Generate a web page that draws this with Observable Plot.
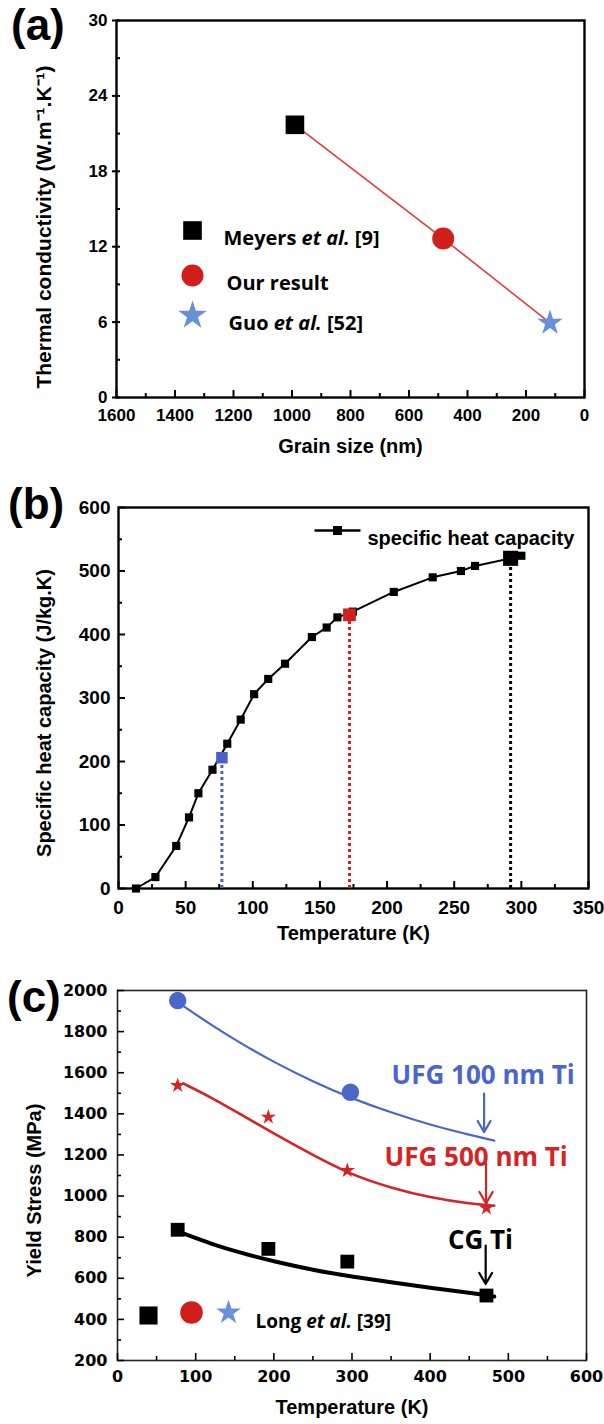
<!DOCTYPE html>
<html><head><meta charset="utf-8">
<script src="https://cdn.jsdelivr.net/npm/d3@7"></script>
<script src="https://cdn.jsdelivr.net/npm/@observablehq/plot@0.6"></script>
<style>
body{margin:0;background:#fff;}
#wrap{position:relative;width:604px;height:1424px;overflow:hidden;background:#fff;}
#wrap svg{position:absolute;left:0;overflow:visible;}
.plabel{position:absolute;font-family:"Liberation Sans",Arial,sans-serif;font-weight:bold;font-size:44px;line-height:1;color:#000;}
</style></head><body><div id="wrap"></div>
<script>
// ---------- Panel (a) data ----------
const grainSize = [990, 483, 118];
const conductivity = [21.7, 12.65, 5.93];
const sourcesA = ["Meyers et al. [9]", "Our result", "Guo et al. [52]"];
const aXTicks = [1600, 1400, 1200, 1000, 800, 600, 400, 200, 0];
const aYTicks = [0, 6, 12, 18, 24, 30];

// ---------- Panel (b) data ----------
const temperatureB = [13, 27.5, 43, 52.5, 59.5, 70, 81, 91, 101, 111.5, 124, 144, 155, 163, 174.5, 205, 234, 255, 265.5, 292, 300];
const heatCapacity = [0, 18, 67, 112, 150, 187, 228, 266, 306, 330, 354, 396, 411, 427, 436, 467, 490, 500, 508, 520, 524];
const markedT = [77, 172, 292];
const markedCp = [206, 431, 520];
const bXTicks = [0, 50, 100, 150, 200, 250, 300, 350];
const bYTicks = [0, 100, 200, 300, 400, 500, 600];

// ---------- Panel (c) data ----------
const tempC = [77, 193, 294, 472];
const cgStress = [836, 743, 681, 516];
const ufg500Stress = [1538, 1384, 1124, 942];
const ufg100T = [77, 298];
const ufg100Stress = [1951, 1505];
const fitT = [84, 120, 160, 200, 250, 300, 350, 400, 450, 482];
const fitUfg100 = [1925, 1832, 1738, 1652, 1556, 1474, 1406, 1346, 1298, 1270];
const fitUfg500 = [1548, 1480, 1392, 1304, 1199, 1102, 1039, 992, 963, 953];
const fitCg = [818, 767, 721, 682, 640, 608, 580, 554, 530, 511];
const labelText = ["UFG 100 nm Ti", "UFG 500 nm Ti", "CG Ti"];
const labelT = [585, 576, 506];
const labelY = [1586, 1189, 784];
const arrowT = [469, 471.5, 471];
const arrowFrom = [1499, 1158, 759];
const arrowTo = [1311, 964, 572];
const cXTicks = [0, 100, 200, 300, 400, 500, 600];
const cYTicks = [200, 400, 600, 800, 1000, 1200, 1400, 1600, 1800, 2000];

// ---------- helpers ----------
const FF = '"Liberation Sans", Arial, sans-serif';
const OS = '"Open Sans", sans-serif';
const wrap = document.getElementById("wrap");
function place(svg, top) { svg.style.top = top + "px"; wrap.appendChild(svg); italicize(svg); }
function italicize(svg) {
  d3.select(svg).selectAll("text").each(function () {
    const t = this.textContent;
    const i = t.indexOf("et al.");
    if (i < 0) return;
    const el = d3.select(this);
    el.text(null);
    el.append("tspan").text(t.slice(0, i));
    el.append("tspan").attr("font-style", "italic").text("et al.");
    el.append("tspan").text(t.slice(i + 6));
  });
}
function label(txt, left, top) {
  const d = document.createElement("div");
  d.className = "plabel"; d.textContent = txt;
  d.style.left = left + "px"; d.style.top = top + "px";
  wrap.appendChild(d);
}
function ticksX(values, innerH, len, sw) { return Plot.tickX(values, {x: d => d, insetTop: innerH - len, stroke: "#000", strokeWidth: sw}); }
function ticksY(values, innerW, len, sw) { return Plot.tickY(values, {y: d => d, insetRight: innerW - len, stroke: "#000", strokeWidth: sw}); }

// ---------- Panel (a) ----------
{
  const top = 0, H = 470, fL = 116, fR = 584, fT = 20, fB = 397;
  const iw = fR - fL, ih = fB - fT;
  const rows = grainSize.map((g, i) => ({g, k: conductivity[i], s: sourcesA[i]}));
  const minorX = d3.range(100, 1600, 200), minorY = d3.range(3, 30, 6);
  const svg = Plot.plot({
    width: 604, height: H,
    marginLeft: fL, marginRight: 604 - fR, marginTop: fT - top, marginBottom: H - (fB - top),
    x: {domain: [1600, 0]}, y: {domain: [0, 30]},
    style: {fontFamily: FF, fontWeight: "bold", fontSize: "17px", color: "#000", background: "transparent"},
    marks: [
      Plot.frame({stroke: "#000", strokeWidth: 2.4}),
      ticksX(aXTicks, ih, 7, 2), ticksX(minorX, ih, 4, 2),
      ticksY(minorY, iw, 4, 2), ticksY(aYTicks, iw, 4, 2),
      Plot.axisY(aYTicks, {tickSize: 4, tickPadding: 5, strokeWidth: 2, tickFormat: "d", label: null}),
      Plot.axisX(aXTicks, {tickSize: 0, tickPadding: 11, tickFormat: "d", label: null}),
      Plot.text(["Grain size (nm)"], {frameAnchor: "bottom", dy: 55, fontSize: 20, fontWeight: "bold"}),
      Plot.text(["Thermal conductivity (W.m\u207B\u00B9.K\u207B\u00B9)"], {frameAnchor: "left", dx: -72, dy: 18, rotate: -90, textAnchor: "middle", fontSize: 21, fontWeight: "bold"}),
      Plot.line(rows, {x: "g", y: "k", stroke: "#e23b3b", strokeWidth: 1.6}),
      Plot.dot(rows.slice(0, 1), {x: "g", y: "k", symbol: "square", fill: "#000", r: 10.5}),
      Plot.dot(rows.slice(1, 2), {x: "g", y: "k", symbol: "circle", fill: "#d21d1d", r: 11}),
      Plot.dot(rows.slice(2, 3), {x: "g", y: "k", symbol: "star", fill: "#6a8fd9", r: 8}),
      // legend
      Plot.dot([sourcesA[0]], {frameAnchor: "top-left", dx: 76, dy: 210, symbol: "square", fill: "#000", r: 10.5}),
      Plot.dot([sourcesA[1]], {frameAnchor: "top-left", dx: 76, dy: 255, symbol: "circle", fill: "#d21d1d", r: 11}),
      Plot.dot([sourcesA[2]], {frameAnchor: "top-left", dx: 76, dy: 295, symbol: "star", fill: "#6a8fd9", r: 9}),
      Plot.text([sourcesA[0]], {frameAnchor: "top-left", dx: 107, dy: 210, textAnchor: "start", fontSize: 20, fontWeight: "bold", fontFamily: OS}),
      Plot.text([sourcesA[1]], {frameAnchor: "top-left", dx: 110, dy: 255, textAnchor: "start", fontSize: 20, fontWeight: "bold", fontFamily: OS}),
      Plot.text([sourcesA[2]], {frameAnchor: "top-left", dx: 112, dy: 295, textAnchor: "start", fontSize: 20, fontWeight: "bold", fontFamily: OS})
    ]
  });
  place(svg, top);
  label("(a)", 11, 3);
}

// ---------- Panel (b) ----------
{
  const top = 470, H = 490, fL = 118, fR = 588, fT = 507, fB = 888;
  const iw = fR - fL, ih = fB - fT;
  const rows = temperatureB.map((t, i) => ({t, c: heatCapacity[i]}));
  const marked = markedT.map((t, i) => ({t, c: markedCp[i]}));
  const markColors = ["#4b5fc8", "#d42020", "#000"];
  const markR = [6.5, 7.2, 8.5];
  const minorX = d3.range(25, 350, 50), minorY = d3.range(50, 600, 100);
  const legendSymbol = {draw(ctx) { ctx.rect(-23, -1.2, 46, 2.4); ctx.rect(-4.5, -4.5, 9, 9); }};
  const svg = Plot.plot({
    width: 604, height: H,
    marginLeft: fL, marginRight: 604 - fR, marginTop: fT - top, marginBottom: H - (fB - top),
    x: {domain: [0, 350]}, y: {domain: [0, 600]},
    style: {fontFamily: FF, fontWeight: "bold", fontSize: "19px", color: "#000", background: "transparent"},
    marks: [
      Plot.frame({stroke: "#000", strokeWidth: 2.4}),
      ticksX(bXTicks, ih, 7, 2), ticksX(minorX, ih, 4, 2),
      ticksY(bYTicks, iw, 7, 2), ticksY(minorY, iw, 4, 2),
      Plot.axisY(bYTicks, {tickSize: 0, tickPadding: 8, tickFormat: "d", label: null}),
      Plot.axisX(bXTicks, {tickSize: 0, tickPadding: 12, tickFormat: "d", label: null}),
      Plot.text(["Temperature (K)"], {frameAnchor: "bottom", dy: 51, fontSize: 20, fontWeight: "bold"}),
      Plot.text(["Specific heat capacity (J/kg.K)"], {frameAnchor: "left", dx: -74, dy: 15, rotate: -90, textAnchor: "middle", fontSize: 20, fontWeight: "bold"}),
      Plot.ruleX(marked, {x: "t", y1: 0, y2: "c", stroke: (d, i) => markColors[i], strokeWidth: 3, strokeDasharray: "3,3"}),
      Plot.line(rows, {x: "t", y: "c", stroke: "#000", strokeWidth: 2}),
      Plot.dot(rows, {x: "t", y: "c", symbol: "square", fill: "#000", r: 4.6}),
      Plot.dot(marked.slice(0, 1), {x: "t", y: "c", symbol: "square", fill: markColors[0], r: markR[0]}),
      Plot.dot(marked.slice(1, 2), {x: "t", y: "c", symbol: "square", fill: markColors[1], r: markR[1]}),
      Plot.dot(marked.slice(2, 3), {x: "t", y: "c", symbol: "square", fill: markColors[2], r: markR[2]}),
      Plot.dot(["specific heat capacity"], {frameAnchor: "top-right", dx: -251, dy: 23, symbol: legendSymbol, fill: "#000", r: 5}),
      Plot.text(["specific heat capacity"], {frameAnchor: "top-right", dx: -221, dy: 23, textAnchor: "start", fontSize: 20, fontWeight: "bold"})
    ]
  });
  place(svg, top);
  label("(b)", 8, 482);
}

// ---------- Panel (c) ----------
{
  const top = 960, H = 464, fL = 117, fR = 586, fT = 990, fB = 1360;
  const iw = fR - fL, ih = fB - fT;
  const cg = tempC.map((t, i) => ({t, s: cgStress[i]}));
  const u5 = tempC.map((t, i) => ({t, s: ufg500Stress[i]}));
  const u1 = ufg100T.map((t, i) => ({t, s: ufg100Stress[i]}));
  const f1 = fitT.map((t, i) => ({t, s: fitUfg100[i]}));
  const f5 = fitT.map((t, i) => ({t, s: fitUfg500[i]}));
  const fc = fitT.map((t, i) => ({t, s: fitCg[i]}));
  const labs = labelText.map((txt, i) => ({txt, t: labelT[i], s: labelY[i]}));
  const arrows = arrowT.map((t, i) => ({t, a: arrowFrom[i], b: arrowTo[i]}));
  const cBlue = "#4a66c9", cRed = "#d42424";
  const labColors = [cBlue, cRed, "#000"];
  const minorX = d3.range(50, 600, 100), minorY = d3.range(300, 2000, 200);
  const FFc = '"DejaVu Sans", sans-serif';
  const svg = Plot.plot({
    width: 604, height: H,
    marginLeft: fL, marginRight: 604 - fR, marginTop: fT - top, marginBottom: H - (fB - top),
    x: {domain: [0, 600]}, y: {domain: [200, 2000]},
    style: {fontFamily: FFc, fontWeight: "bold", fontSize: "16px", color: "#000", background: "transparent"},
    marks: [
      Plot.frame({stroke: "#222", strokeWidth: 1.6}),
      ticksX(cXTicks, ih, 7, 1.6), ticksX(minorX, ih, 4, 1.6),
      ticksY(cYTicks, iw, 7, 1.6), ticksY(minorY, iw, 4, 1.6),
      Plot.axisY(cYTicks, {tickSize: 0, tickPadding: 10, tickFormat: "d", label: null}),
      Plot.axisX(cXTicks, {tickSize: 0, tickPadding: 10, tickFormat: "d", label: null}),
      Plot.text(["Temperature (K)"], {frameAnchor: "bottom", dy: 53, fontSize: 20, fontWeight: "bold", fontFamily: FF}),
      Plot.text(["Yield Stress (MPa)"], {frameAnchor: "left", dx: -83, dy: 15, rotate: -90, textAnchor: "middle", fontSize: 20, fontWeight: "bold", fontFamily: FF}),
      Plot.line(f1, {x: "t", y: "s", stroke: cBlue, strokeWidth: 2.2, curve: "basis"}),
      Plot.line(f5, {x: "t", y: "s", stroke: cRed, strokeWidth: 2.6, curve: "basis"}),
      Plot.line(fc, {x: "t", y: "s", stroke: "#000", strokeWidth: 4, curve: "basis"}),
      Plot.dot(u1, {x: "t", y: "s", symbol: "circle", fill: cBlue, r: 8.7}),
      Plot.dot(u5, {x: "t", y: "s", symbol: "star", fill: cRed, r: 4.8}),
      Plot.dot(cg, {x: "t", y: "s", symbol: "square", fill: "#000", r: 7.8}),
      Plot.arrow(arrows, {x: "t", y1: "a", y2: "b", stroke: (d, i) => labColors[i], strokeWidth: 2.2, headLength: 9}),
      Plot.text(labs, {x: "t", y: "s", text: "txt", textAnchor: "end", fill: (d, i) => labColors[i], fontSize: 26, fontWeight: "bold", fontFamily: OS}),
      // legend
      Plot.dot(["Long et al. [39]"], {frameAnchor: "top-left", dx: 31, dy: 325, symbol: "square", fill: "#000", r: 10.2}),
      Plot.dot(["Long et al. [39]"], {frameAnchor: "top-left", dx: 74, dy: 322, symbol: "circle", fill: "#d21d1d", r: 11.3}),
      Plot.dot(["Long et al. [39]"], {frameAnchor: "top-left", dx: 111, dy: 322, symbol: "star", fill: "#6a8fd9", r: 7.8}),
      Plot.text(["Long et al. [39]"], {frameAnchor: "top-left", dx: 138, dy: 324, textAnchor: "start", fontSize: 19, fontWeight: "bold", fontFamily: OS})
    ]
  });
  place(svg, top);
  label("(c)", 7, 975);
}
</script></body></html>
